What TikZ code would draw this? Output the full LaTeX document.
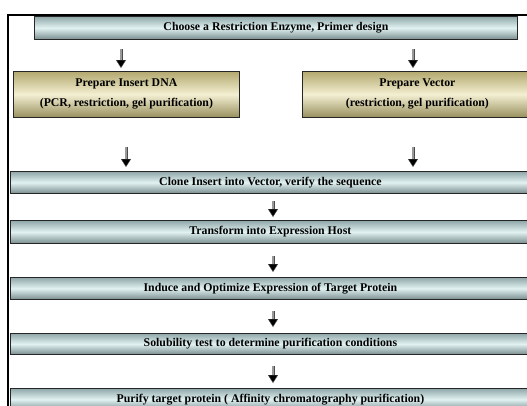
\documentclass[tikz,border=0pt]{standalone}
\usepackage{fontspec}
\setmainfont{Liberation Serif}
\usetikzlibrary{arrows.meta}

\definecolor{tealedge}{HTML}{8FA6A8}
\definecolor{teallight}{HTML}{E2F2F2}
\definecolor{goldedge}{HTML}{B3A86E}
\definecolor{goldlight}{HTML}{F3EFD2}

\tikzset{
  stepbar/.style={draw=black!85, line width=0.8pt, anchor=north west, inner sep=0pt,
    top color=tealedge, bottom color=tealedge!85!black, middle color=teallight,
    font=\bfseries\fontsize{11.8}{13}\selectfont, align=center},
  prepbox/.style={stepbar, top color=goldedge, bottom color=goldedge!85!black,
    middle color=goldlight, font=\bfseries\fontsize{11.8}{20}\selectfont},
  darrow/.style={draw=black!70, double=black!40, double distance=1.6pt, line width=0.7pt,
    -{Triangle[length=8pt, width=10pt, fill=black, line width=0.4pt]}}
}

\begin{document}
\begin{tikzpicture}[x=1pt, y=-1pt]
\useasboundingbox (0,0) rectangle (527,405);
\clip (0,0) rectangle (527,405);

% outer frame
\draw[line width=2pt] (8,15) rectangle (545,430);

% design
\node[stepbar, minimum width=483pt, minimum height=23pt] (choose) at (34,16)
  {Choose a Restriction Enzyme, Primer design};

% insert and vector
\node[prepbox, minimum width=226pt, minimum height=46pt] (insert) at (13,71)
  {Prepare Insert DNA\\(PCR, restriction, gel purification)};
\node[prepbox, minimum width=230pt, minimum height=46pt] (vector) at (302,71)
  {Prepare Vector\\(restriction, gel purification)};

% main steps
\node[stepbar, minimum width=520pt, minimum height=22pt] (clone) at (10,171)
  {Clone Insert into Vector, verify the sequence};
\node[stepbar, minimum width=520pt, minimum height=23pt] (transform) at (10,220)
  {Transform into Expression Host};
\node[stepbar, minimum width=520pt, minimum height=22pt] (induce) at (10,277)
  {Induce and Optimize Expression of Target Protein};
\node[stepbar, minimum width=520pt, minimum height=21pt] (solub) at (10,333)
  {Solubility test to determine purification conditions};
\node[stepbar, minimum width=520pt, minimum height=22pt] (purify) at (10,388)
  {Purify target protein ( Affinity chromatography purification)};

% arrows
\coordinate (lefttop) at (121,0);
\coordinate (leftlow) at (126,0);
\coordinate (right) at (413,0);
\coordinate (mid) at (273,0);
\draw[darrow, shorten <=9pt, shorten >=3pt] (choose.south -| lefttop) -- (insert.north -| lefttop);
\draw[darrow, shorten <=9pt, shorten >=3pt] (choose.south -| right) -- (vector.north -| right);
\draw[darrow, shorten <=29pt, shorten >=4pt] (insert.south -| leftlow) -- (clone.north -| leftlow);
\draw[darrow, shorten <=29pt, shorten >=4pt] (vector.south -| right) -- (clone.north -| right);
\draw[darrow, shorten <=7pt, shorten >=3pt] (clone.south -| mid) -- (transform.north -| mid);
\draw[darrow, shorten <=12pt, shorten >=5pt] (transform.south -| mid) -- (induce.north -| mid);
\draw[darrow, shorten <=11pt, shorten >=6pt] (induce.south -| mid) -- (solub.north -| mid);
\draw[darrow, shorten <=11pt, shorten >=5pt] (solub.south -| mid) -- (purify.north -| mid);

\end{tikzpicture}
\end{document}
